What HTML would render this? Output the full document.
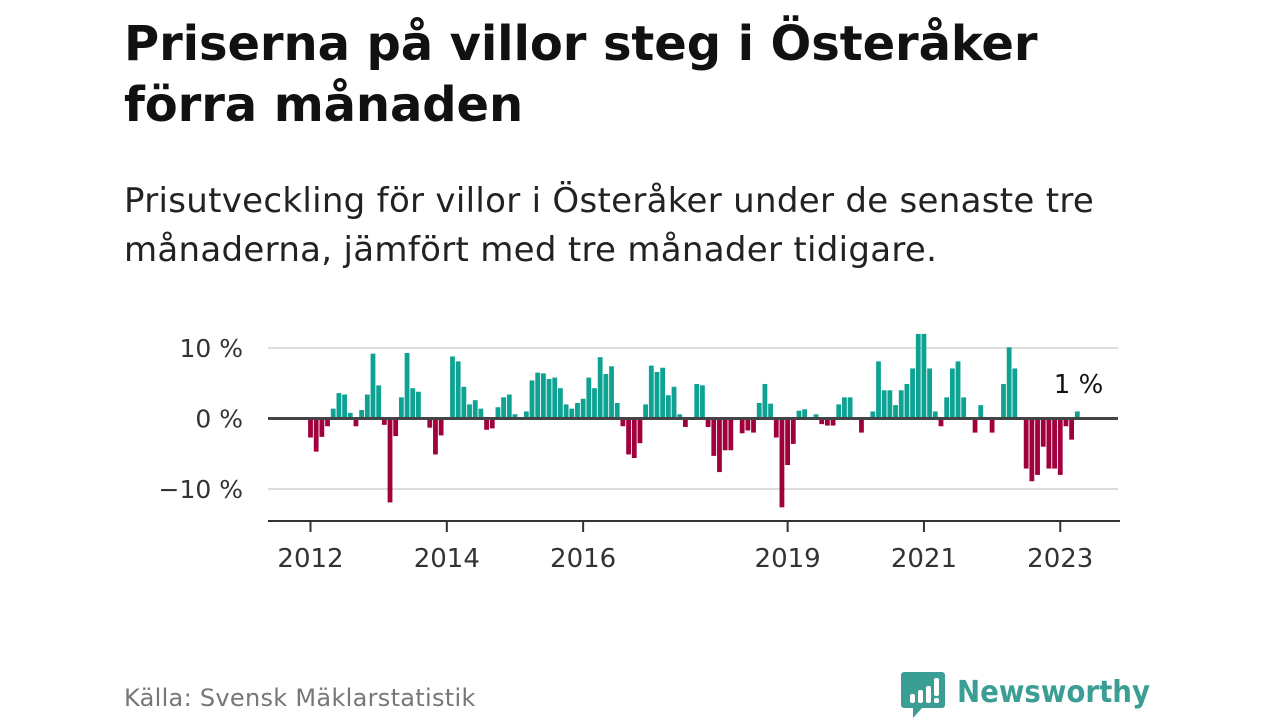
<!DOCTYPE html>
<html><head><meta charset="utf-8">
<style>
html,body{margin:0;padding:0;background:#fff;}
body{width:1280px;height:720px;position:relative;overflow:hidden;font-family:"DejaVu Sans","Liberation Sans",sans-serif;color:#111;}
h1{position:absolute;left:124px;top:14px;margin:0;font-size:48px;line-height:61px;font-weight:bold;letter-spacing:-0.1px;color:#111;}
.sub{position:absolute;left:124px;top:177px;margin:0;font-size:34px;line-height:49px;color:#222;letter-spacing:0.3px;}
.src{position:absolute;left:124px;top:684px;font-size:24px;color:#777;letter-spacing:0.3px;}
svg{position:absolute;left:0;top:0;}
</style></head><body>
<h1>Priserna på villor steg i Österåker<br>förra månaden</h1>
<p class="sub">Prisutveckling för villor i Österåker under de senaste tre<br>månaderna, jämfört med tre månader tidigare.</p>
<svg id="chart" width="1280" height="720"></svg>
<div class="src">Källa: Svensk Mäklarstatistik</div>
<svg width="300" height="60" style="left:898px;top:664px">
<path d="M6 8 h38 a3 3 0 0 1 3 3 v30 a3 3 0 0 1 -3 3 h-20 l-9 10 v-10 h-9 a3 3 0 0 1 -3 -3 v-30 a3 3 0 0 1 3 -3z" fill="#3a9e94"/>
<rect x="12" y="30" width="5" height="9" rx="2" fill="#fff"/><rect x="20" y="26" width="5" height="13" rx="2" fill="#fff"/><rect x="28" y="22" width="5" height="17" rx="2" fill="#fff"/><rect x="36" y="14" width="5" height="18" rx="2" fill="#fff"/><rect x="36" y="34" width="5" height="5" rx="2" fill="#fff"/>
<text x="59" y="38" font-size="30" font-weight="bold" fill="#3a9e94" font-family="DejaVu Sans, Liberation Sans, sans-serif" textLength="193" lengthAdjust="spacingAndGlyphs">Newsworthy</text>
</svg>
<script>
const values = [-2.7,-4.7,-2.6,-1.1,1.4,3.6,3.4,0.8,-1.1,1.2,3.4,9.2,
4.7,-0.9,-11.9,-2.5,3.0,9.3,4.3,3.8,0,-1.3,-5.1,-2.4,
0,8.8,8.1,4.5,2.0,2.6,1.4,-1.6,-1.4,1.6,3.0,3.4,
0.6,0,1.0,5.4,6.5,6.4,5.6,5.8,4.3,2.0,1.4,2.2,
2.8,5.8,4.3,8.7,6.3,7.4,2.2,-1.1,-5.1,-5.6,-3.5,2.0,
7.5,6.6,7.2,3.3,4.5,0.6,-1.2,-0.2,4.9,4.7,-1.2,-5.3,
-7.6,-4.5,-4.5,-0.2,-2.1,-1.7,-2.0,2.2,4.9,2.1,-2.7,-12.6,
-6.6,-3.6,1.1,1.3,0.2,0.6,-0.8,-1.0,-1.0,2.0,3.0,3.0,
0,-2.0,0,1.0,8.1,4.0,4.0,1.9,4.0,4.9,7.1,12.0,
12.0,7.1,1.0,-1.1,3.0,7.1,8.1,3.0,0,-2.0,1.9,0,
-2.0,0,4.9,10.1,7.1,0,-7.1,-8.9,-8.0,-4.0,-7.1,-7.1,
-8.0,-1.1,-3.0,1.0];
const yTicks = [10,0,-10];
const yTickLabels = ["10 %","0 %","\u221210 %"];
const xTickMonths = [0,24,48,84,108,132];
const xTickLabels = ["2012","2014","2016","2019","2021","2023"];
const NS="http://www.w3.org/2000/svg";
const svg=document.getElementById('chart');
const x0=310.5, step=5.68, yZero=418.5, pxPer=7.05;
const xs=i=>x0+i*step;
const ys=v=>yZero-v*pxPer;
function mk(t,a){const e=document.createElementNS(NS,t);for(const k in a)e.setAttribute(k,a[k]);svg.appendChild(e);return e;}
yTicks.forEach((v,i)=>{
  if(v!==0){const g=mk('line',{x1:268,x2:1118,y1:ys(v),y2:ys(v),stroke:'#ddd','stroke-width':2});
  
  }
  const t=mk('text',{x:243,y:ys(v)+9,'text-anchor':'end','font-size':25,fill:'#333'});
  t.textContent=yTickLabels[i];
  
  
});
values.forEach((v,i)=>{
  const y=v>=0?ys(v):yZero;
  const r=mk('rect',{x:xs(i)-2.4,y:y,width:4.8,height:Math.abs(v)*pxPer,fill:v>=0?'#0ea293':'#a0003c'});
  
  
});
const z=mk('line',{x1:268,x2:1118,y1:yZero,y2:yZero,stroke:'#444','stroke-width':3});


const ax=mk('line',{x1:268,x2:1120,y1:521,y2:521,stroke:'#333','stroke-width':2});


xTickMonths.forEach((m,i)=>{
  const tk=mk('line',{x1:xs(m),x2:xs(m),y1:521,y2:532,stroke:'#333','stroke-width':2});
  
  
  const t=mk('text',{x:xs(m),y:567,'text-anchor':'middle','font-size':26,fill:'#333'});
  t.textContent=xTickLabels[i];
  
  
});
const last=values.length-1;
const an=mk('text',{x:xs(last)+26,y:393,'text-anchor':'end','font-size':26,fill:'#111'});
an.textContent=Math.round(values[last])+" %";


</script>
</body></html>
